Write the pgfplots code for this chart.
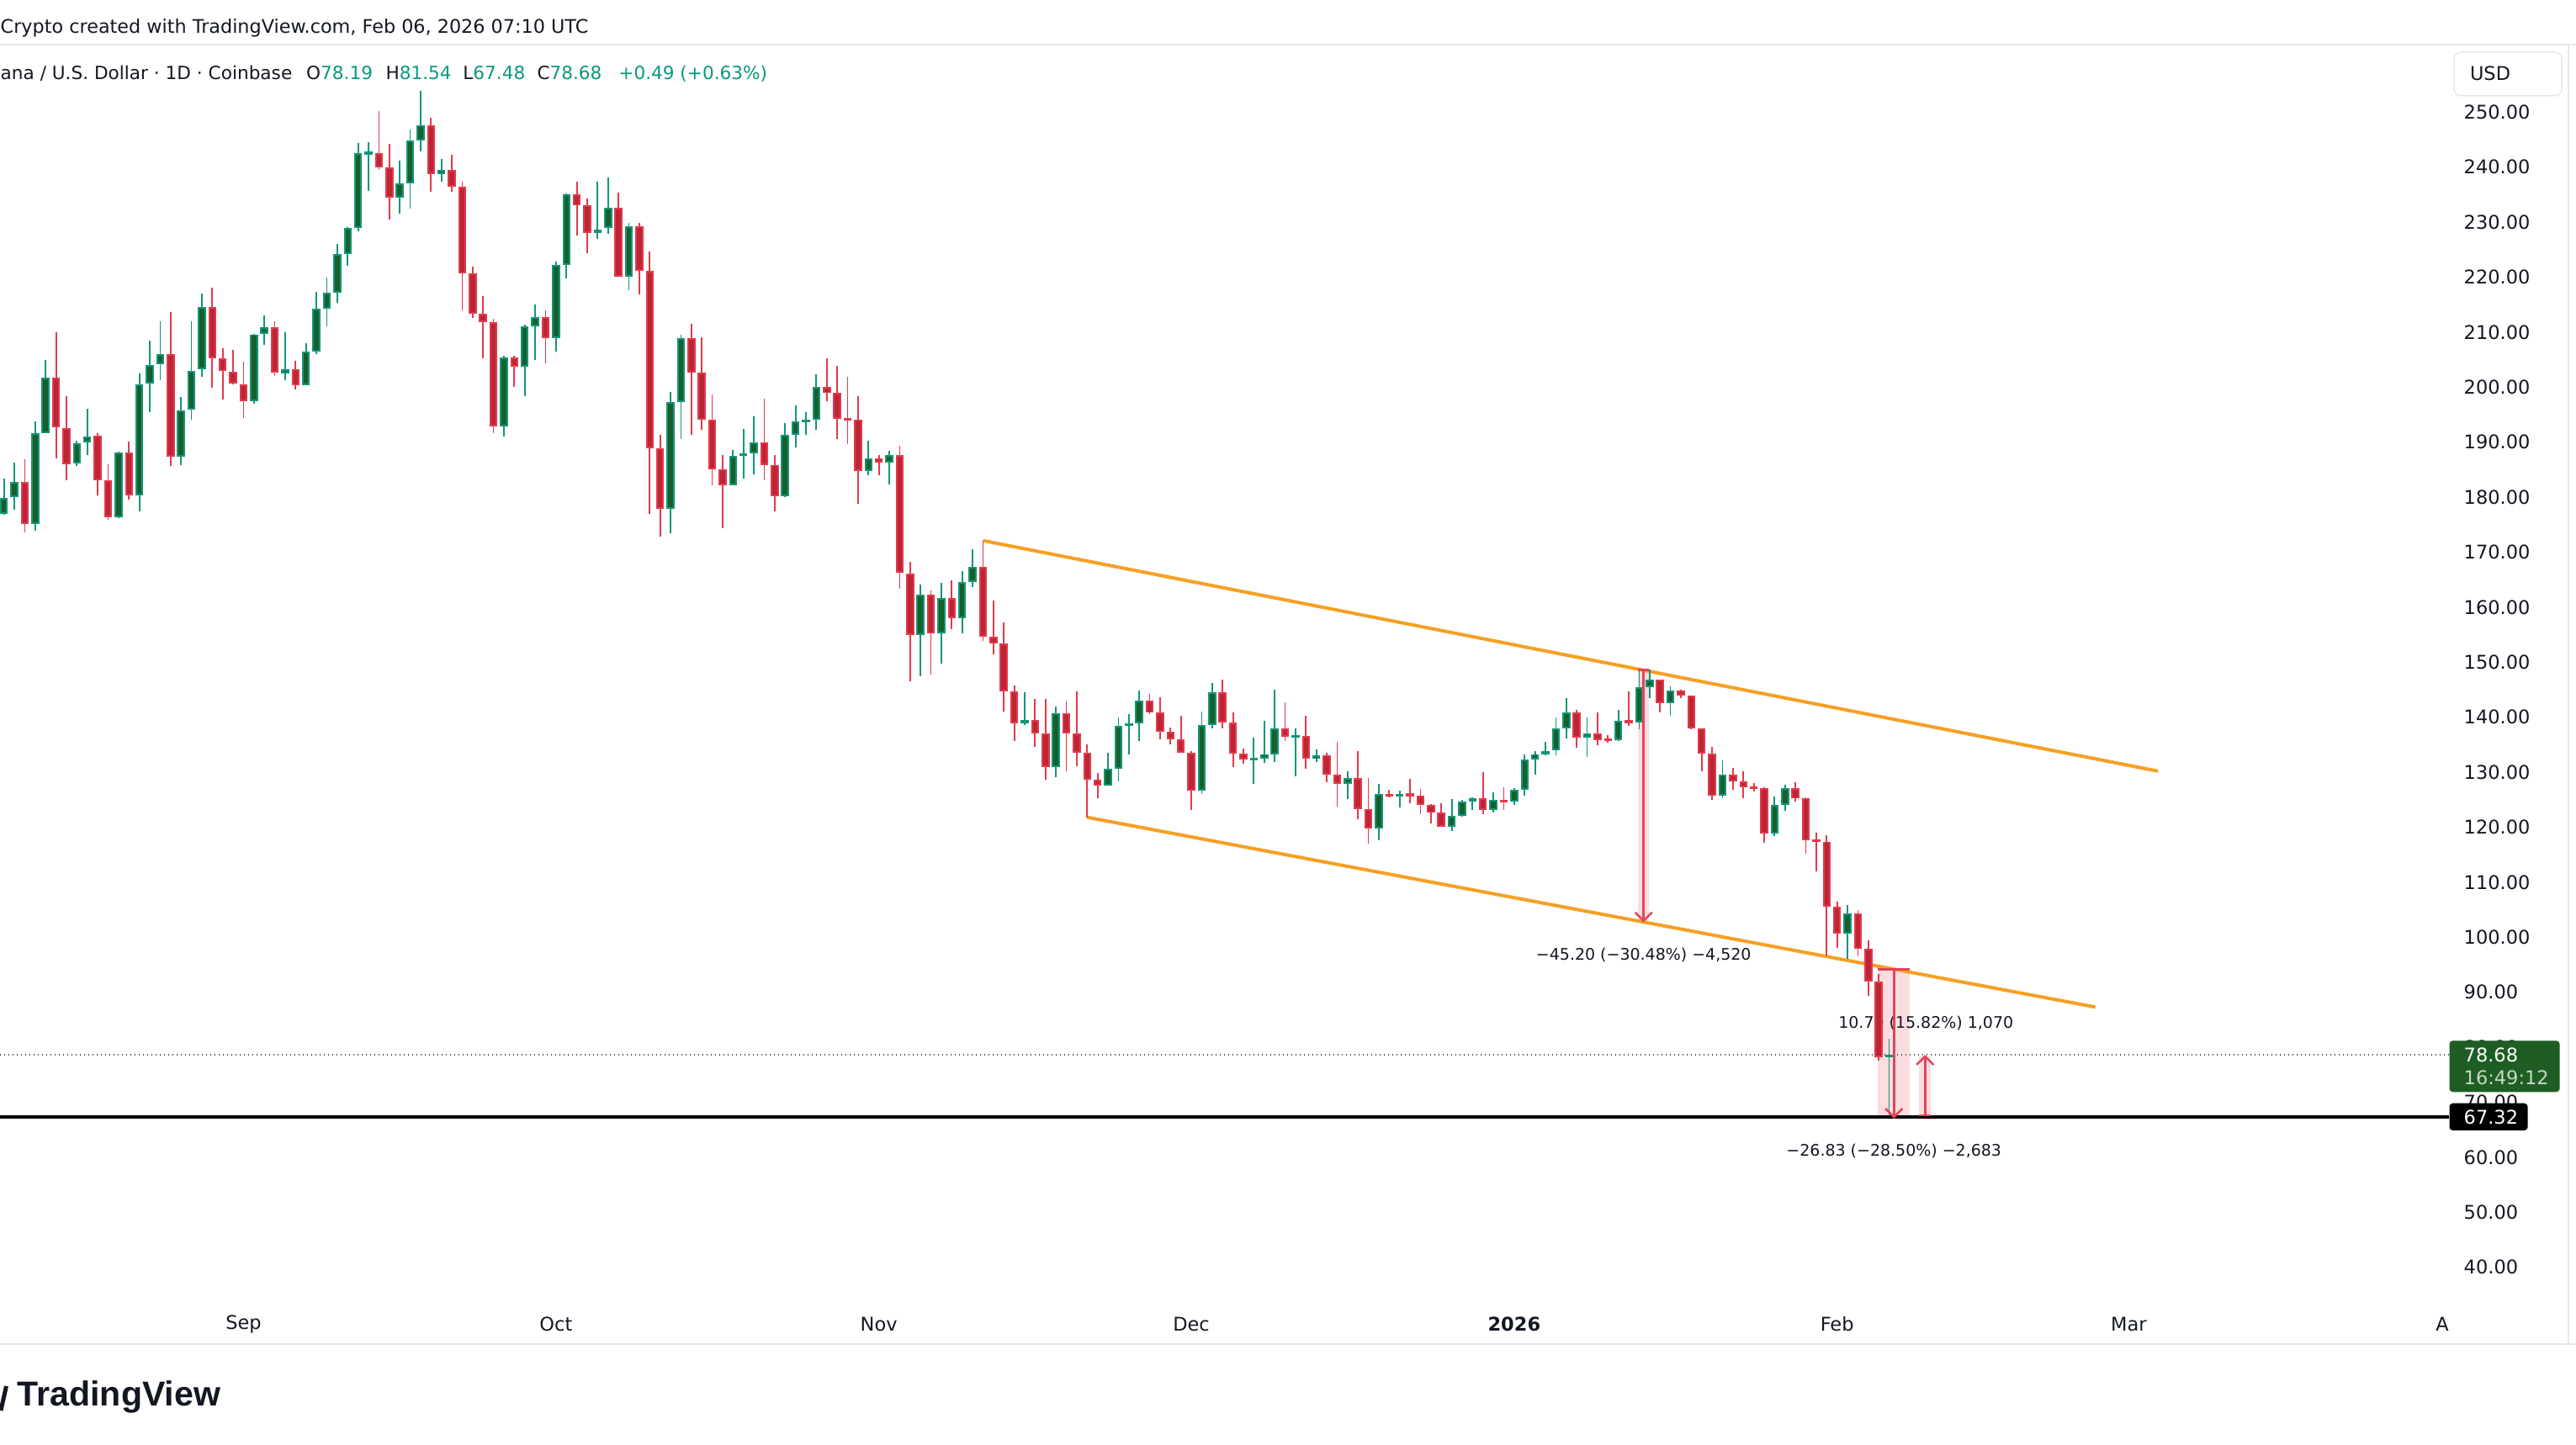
\documentclass[border=0pt]{standalone}
\usepackage{fontspec}
\setmainfont{DejaVu Sans}
\newfontfamily\logofont{Liberation Sans}
\usepackage{pgfplots}
\pgfplotsset{compat=1.18}
\usepackage{pgfplotstable}
\definecolor{upfill}{HTML}{17602B}
\definecolor{upedge}{HTML}{13957A}
\definecolor{dnfill}{HTML}{BD2535}
\definecolor{dnedge}{HTML}{E23A4C}
\definecolor{chan}{HTML}{F5A024}
\definecolor{tvgreen}{HTML}{089981}
\definecolor{tvtext}{HTML}{131722}
\definecolor{pinkbox}{HTML}{FBDDE0}
\definecolor{toolred}{HTML}{E0465A}
\definecolor{boxgreen}{HTML}{1E5E24}
\definecolor{sepgray}{HTML}{E6E8EE}
\definecolor{dotgreen}{HTML}{34523A}
\newcommand\hdrfont{\fontsize{6.35pt}{7pt}\selectfont}
\newcommand\legfont{\fontsize{6.15pt}{7pt}\selectfont}
\newcommand\axfont{\fontsize{6.4pt}{7pt}\selectfont}
\newcommand\toolfont{\fontsize{5.4pt}{6pt}\selectfont}

\pgfplotstableread{
d O H L C
-23 176.9 183.4 176.8 179.9
-22 180.0 186.3 177.7 182.7
-20 175.1 193.8 173.9 191.7
-19 191.7 205.0 191.6 201.7
-16 186.1 190.3 185.6 189.8
-15 189.9 196.1 187.6 191.0
-12 176.4 188.2 176.2 188.1
-10 180.3 202.5 177.4 200.5
-9 200.6 208.5 195.4 204.0
-8 204.2 212.0 201.3 206.0
-6 187.4 198.2 185.8 195.8
-5 195.9 212.0 194.1 203.0
-4 203.2 217.0 201.9 214.6
1 197.5 209.7 197.0 209.6
2 209.7 213.0 207.7 210.9
4 202.5 210.0 201.3 203.3
6 200.4 208.0 200.4 206.4
7 206.5 217.3 206.0 214.2
8 214.2 219.9 211.1 217.2
9 217.2 226.0 215.4 224.2
10 224.2 229.1 222.1 228.9
11 228.9 244.4 228.4 242.5
12 242.5 244.5 235.6 242.6
15 234.5 241.2 231.5 237.1
16 237.1 246.9 232.4 244.9
17 244.9 253.8 242.8 247.6
19 238.8 241.5 237.4 239.5
25 192.8 205.7 191.0 205.4
27 203.7 211.3 198.4 211.1
28 211.1 215.0 204.9 212.8
30 208.9 222.9 206.5 222.2
31 222.2 235.2 219.8 235.0
34 228.0 237.4 226.9 228.6
35 228.9 238.1 227.8 232.6
37 220.1 229.8 217.7 229.2
41 177.9 199.2 173.4 197.3
42 197.3 209.5 190.5 208.9
47 182.2 188.6 182.1 187.5
48 187.5 192.4 183.4 187.9
49 187.9 194.7 184.1 189.9
52 180.2 193.5 180.0 191.4
53 191.4 196.7 189.0 193.7
54 193.7 195.4 191.4 194.1
55 194.1 202.3 192.2 200.1
60 184.8 190.3 184.0 187.1
62 186.3 188.4 182.3 187.6
65 155.0 164.1 147.4 162.3
67 155.2 164.4 149.8 161.7
69 158.0 166.5 155.2 164.5
70 164.5 170.5 163.6 167.3
75 138.9 144.6 138.6 139.5
78 130.9 142.0 129.1 140.7
83 127.6 133.5 127.6 130.6
84 130.6 139.9 128.4 138.4
85 138.4 140.5 133.3 138.9
86 138.9 144.9 135.6 143.0
92 126.6 141.0 126.1 138.6
93 138.6 146.2 137.9 144.6
97 132.3 136.3 127.8 132.4
98 132.4 139.3 131.7 133.3
99 133.3 145.0 131.8 137.9
101 136.4 138.0 129.2 136.6
103 132.4 134.2 131.9 133.1
106 127.9 130.1 125.1 128.9
109 119.7 127.8 117.7 126.1
111 125.6 126.6 123.6 126.0
116 120.1 125.1 119.3 122.1
117 122.1 125.0 121.9 124.7
118 124.7 125.5 123.1 125.2
120 123.2 126.4 122.7 124.9
122 124.6 127.1 124.1 126.8
123 126.8 133.2 125.7 132.3
124 132.3 133.9 129.6 133.3
125 133.3 135.5 133.0 133.9
126 134.0 139.9 133.1 137.9
127 137.9 143.5 136.2 140.9
129 136.3 139.9 132.7 137.1
132 135.8 141.4 135.6 139.4
134 139.0 149.0 137.8 145.4
135 145.4 148.6 143.4 146.8
137 142.5 145.6 140.3 144.8
142 125.7 132.1 125.2 129.5
147 118.8 125.6 118.4 124.1
148 124.1 127.7 123.0 127.1
154 100.7 105.9 96.1 104.3
158 78.19 81.54 67.48 78.68
}\upcandles

\pgfplotstableread{
d O H L C
-21 182.7 186.9 173.6 175.1
-18 201.7 210.0 187.1 192.7
-17 192.6 198.4 183.0 186.0
-14 191.2 191.6 180.3 183.1
-13 183.1 186.0 175.9 176.4
-11 188.1 190.1 179.6 180.3
-7 206.0 213.7 185.6 187.4
-3 214.6 218.1 199.9 205.2
-2 205.2 207.1 197.7 202.9
-1 202.8 206.8 200.5 200.6
0 200.5 204.6 194.4 197.5
3 210.9 212.0 202.1 202.6
5 203.3 204.8 199.6 200.4
13 242.5 250.2 239.5 239.9
14 239.9 244.2 230.4 234.5
18 247.6 248.9 235.5 238.7
20 239.5 242.2 235.5 236.4
21 236.4 237.3 213.9 220.7
22 220.7 221.9 212.6 213.3
23 213.3 216.5 205.2 211.8
24 211.8 212.5 191.7 192.8
26 205.4 205.7 200.1 203.7
29 212.8 214.0 204.4 208.9
32 235.0 237.3 227.6 233.0
33 233.0 234.3 224.3 228.0
36 232.6 235.3 220.0 220.1
38 229.2 229.8 216.9 221.2
39 221.2 224.6 177.0 188.9
40 188.9 191.3 172.9 177.9
43 208.9 211.5 191.4 202.7
44 202.7 209.0 192.3 194.1
45 194.1 198.6 182.2 185.0
46 185.0 187.6 174.4 182.2
50 189.9 197.9 183.1 185.9
51 185.9 187.6 177.4 180.2
56 200.1 205.3 197.4 198.9
57 198.9 203.9 190.5 194.3
58 194.3 201.9 189.7 194.1
59 194.1 198.4 178.8 184.8
61 187.1 187.6 184.0 186.3
63 187.6 189.3 163.4 166.2
64 166.1 168.3 146.6 155.0
66 162.3 163.0 147.8 155.2
68 161.7 164.9 156.0 158.0
71 167.3 172.1 153.9 154.7
72 154.6 161.2 151.4 153.4
73 153.4 157.2 141.0 144.7
74 144.7 145.8 135.7 138.9
76 139.5 143.3 134.6 137.0
77 137.0 143.3 128.7 130.9
79 140.7 142.8 130.1 137.0
80 137.0 144.7 131.1 133.5
81 133.5 135.1 121.8 128.7
82 128.6 129.9 125.2 127.6
87 143.0 144.2 140.6 140.8
88 140.8 143.6 136.0 137.4
89 137.4 138.1 135.0 136.0
90 136.0 140.3 133.5 133.5
91 133.5 133.8 123.2 126.6
94 144.6 146.9 137.9 139.1
95 139.1 140.8 131.0 133.4
96 133.4 134.3 131.5 132.3
100 137.9 142.7 135.6 136.4
102 136.6 140.3 130.6 132.4
104 133.1 133.6 128.2 129.5
105 129.5 135.5 123.7 127.9
107 128.9 133.9 121.5 123.3
108 123.3 128.9 117.0 119.7
110 126.1 126.8 125.4 125.6
112 126.0 128.8 124.4 125.8
113 125.8 127.0 122.3 124.0
114 124.0 124.2 120.7 122.6
115 122.6 124.4 120.0 120.1
119 125.2 130.0 122.3 123.2
121 124.9 127.2 123.2 124.6
128 140.9 141.3 134.4 136.3
130 137.1 140.9 134.9 135.9
131 135.9 136.8 135.3 135.8
133 139.4 144.7 138.4 139.0
136 146.8 146.9 140.9 142.5
138 144.8 145.0 143.5 143.9
139 143.9 144.0 137.8 137.9
140 137.9 137.9 130.2 133.4
141 133.4 134.6 124.9 125.7
143 129.5 130.8 126.8 128.3
144 128.3 130.1 125.2 127.3
145 127.3 128.1 126.5 127.0
146 127.1 127.2 117.1 118.8
149 127.1 128.2 124.7 125.2
150 125.2 125.4 115.2 117.6
151 117.6 119.0 111.9 117.4
152 117.4 118.6 96.7 105.5
153 105.5 106.5 98.1 100.7
155 104.3 105.0 96.6 97.9
156 97.9 99.5 89.3 91.9
157 91.9 93.3 77.5 78.19
}\downcandles

\begin{document}
\begin{tikzpicture}
\path[use as bounding box] (0mm,-17.5mm) rectangle (306.2mm,154.3mm);
\fill[white] (0mm,-17.5mm) rectangle (306.2mm,154.3mm);

\begin{axis}[
  at={(0mm,0mm)}, anchor=south west, scale only axis,
  width=291.1mm, height=149.0mm,
  xmin=-23.38, xmax=211.75, ymin=34.45, ymax=262.28,
  axis x line*=bottom, axis y line*=right,
  axis line style={draw=none},
  xtick style={draw=none}, ytick style={draw=none},
  /pgf/number format/assume math mode=true,
  xtick={0,30,61,91,122,153,181},
  xticklabels={Sep,Oct,Nov,Dec,\textbf{2026},Feb,Mar},
  ytick={40,50,60,70,80,90,100,110,120,130,140,150,160,170,180,190,200,210,220,230,240,250},
  yticklabels={40.00,50.00,60.00,70.00,80.00,90.00,100.00,110.00,120.00,130.00,140.00,150.00,160.00,170.00,180.00,190.00,200.00,210.00,220.00,230.00,240.00,250.00},
  xticklabel style={font=\axfont, text=tvtext, anchor=center, inner sep=0pt, yshift=-3.1mm},
  yticklabel style={font=\axfont, text=tvtext, anchor=west, inner sep=0pt, xshift=1.7mm},
]
% pink measurement bands
\fill[pinkbox] (axis cs:133.9,103.0) rectangle (axis cs:134.95,148.6);
\fill[pinkbox] (axis cs:156.92,67.32) rectangle (axis cs:159.99,94.15);
\fill[pinkbox] (axis cs:160.88,67.64) rectangle (axis cs:162.01,78.34);
% channel lines
\draw[chan, line width=0.4mm] (axis cs:71,172.1) -- (axis cs:183.8,130.2);
\draw[chan, line width=0.4mm] (axis cs:81,121.8) -- (axis cs:177.8,87.3);
% measurement labels
\node[font=\toolfont, text=tvtext, inner sep=0pt] at (axis cs:134.43,96.73) {−45.20 (−30.48\%) −4,520};
\node[font=\toolfont, text=tvtext, inner sep=0pt] at (axis cs:161.53,84.34) {10.70 (15.82\%) 1,070};
\node[font=\toolfont, text=tvtext, inner sep=0pt] at (axis cs:158.46,61.06) {−26.83 (−28.50\%) −2,683};

% down candles
\addplot[draw=none, mark=none, forget plot, error bars/.cd, y dir=both, y explicit, error mark=none,
  error bar style={line width=0.18mm, draw=dnedge}]
  table[x=d, y expr={(\thisrow{H}+\thisrow{L})/2}, y error expr={(\thisrow{H}-\thisrow{L})/2}] {\downcandles};
\addplot[draw=none, mark=none, forget plot, error bars/.cd, y dir=both, y explicit, error mark=none,
  error bar style={line width=0.95mm, draw=dnedge}]
  table[x=d, y expr={(\thisrow{O}+\thisrow{C})/2}, y error expr={max(abs(\thisrow{C}-\thisrow{O})/2,0.25)}] {\downcandles};
\addplot[draw=none, mark=none, forget plot, error bars/.cd, y dir=both, y explicit, error mark=none,
  error bar style={line width=0.55mm, draw=dnfill}]
  table[x=d, y expr={(\thisrow{O}+\thisrow{C})/2}, y error expr={max(abs(\thisrow{C}-\thisrow{O})/2-0.3,0)}] {\downcandles};
% up candles
\addplot[draw=none, mark=none, forget plot, error bars/.cd, y dir=both, y explicit, error mark=none,
  error bar style={line width=0.18mm, draw=upedge}]
  table[x=d, y expr={(\thisrow{H}+\thisrow{L})/2}, y error expr={(\thisrow{H}-\thisrow{L})/2}] {\upcandles};
\addplot[draw=none, mark=none, forget plot, error bars/.cd, y dir=both, y explicit, error mark=none,
  error bar style={line width=0.95mm, draw=upedge}]
  table[x=d, y expr={(\thisrow{O}+\thisrow{C})/2}, y error expr={max(abs(\thisrow{C}-\thisrow{O})/2,0.25)}] {\upcandles};
\addplot[draw=none, mark=none, forget plot, error bars/.cd, y dir=both, y explicit, error mark=none,
  error bar style={line width=0.55mm, draw=upfill}]
  table[x=d, y expr={(\thisrow{O}+\thisrow{C})/2}, y error expr={max(abs(\thisrow{C}-\thisrow{O})/2-0.3,0)}] {\upcandles};

% horizontal lines
\draw[black, line width=0.38mm] (axis cs:-23.38,67.32) -- (axis cs:211.75,67.32);
\draw[dotgreen, line width=0.2mm, dash pattern=on 0.15mm off 0.35mm] (axis cs:-23.38,78.68) -- (axis cs:211.75,78.68);

% measurement tools (red)
\draw[toolred, line width=0.25mm] (axis cs:134.42,148.6) -- (axis cs:134.42,103.0);
\draw[toolred, line width=0.25mm] (axis cs:133.9,148.6) -- (axis cs:134.95,148.6);
\draw[toolred, line width=0.25mm] (axis cs:133.61,104.53) -- (axis cs:134.42,103.0) -- (axis cs:135.23,104.53);
\draw[toolred, line width=0.25mm] (axis cs:158.46,94.15) -- (axis cs:158.46,67.32);
\draw[toolred, line width=0.25mm] (axis cs:156.92,94.15) -- (axis cs:159.99,94.15);
\draw[toolred, line width=0.25mm] (axis cs:157.65,68.85) -- (axis cs:158.46,67.32) -- (axis cs:159.27,68.85);
\draw[toolred, line width=0.25mm] (axis cs:161.45,78.34) -- (axis cs:161.45,67.64);
\draw[toolred, line width=0.25mm] (axis cs:160.88,67.64) -- (axis cs:162.01,67.64);
\draw[toolred, line width=0.25mm] (axis cs:160.64,76.81) -- (axis cs:161.45,78.34) -- (axis cs:162.26,76.81);
\end{axis}

% frame lines
\draw[sepgray, line width=0.2mm] (0mm,149.0mm) -- (306.2mm,149.0mm);
\draw[sepgray, line width=0.2mm] (0mm,-5.5mm) -- (306.2mm,-5.5mm);
\draw[sepgray, line width=0.2mm] (305.3mm,149.0mm) -- (305.3mm,-5.5mm);

% header
\node[anchor=base west, inner sep=0pt, font=\hdrfont, text=tvtext] at (0mm,150.35mm) {Crypto created with TradingView.com, Feb 06, 2026 07:10 UTC};
\node[anchor=base west, inner sep=0pt, font=\legfont, text=tvtext] at (0mm,144.85mm) {ana / U.S. Dollar · 1D · Coinbase};
\node[anchor=base west, inner sep=0pt, font=\legfont, text=tvtext] at (36.35mm,144.85mm) {O\textcolor{tvgreen}{78.19}};
\node[anchor=base west, inner sep=0pt, font=\legfont, text=tvtext] at (45.79mm,144.85mm) {H\textcolor{tvgreen}{81.54}};
\node[anchor=base west, inner sep=0pt, font=\legfont, text=tvtext] at (54.97mm,144.85mm) {L\textcolor{tvgreen}{67.48}};
\node[anchor=base west, inner sep=0pt, font=\legfont, text=tvtext] at (63.78mm,144.85mm) {C\textcolor{tvgreen}{78.68}};
\node[anchor=base west, inner sep=0pt, font=\legfont, text=tvgreen] at (73.47mm,144.85mm) {+0.49 (+0.63\%)};

% USD button
\draw[sepgray, line width=0.15mm, rounded corners=0.8mm] (291.7mm,148.1mm) rectangle (304.5mm,142.9mm);
\node[font=\axfont, text=tvtext, inner sep=0pt] at (296.0mm,145.6mm) {USD};

% last price boxes
\fill[boxgreen, rounded corners=0.4mm] (291.15mm,30.57mm) rectangle (304.26mm,24.47mm);
\node[anchor=west, font=\axfont, text=white, inner sep=0pt] at (292.8mm,28.9mm) {78.68};
\node[anchor=west, font=\axfont, text=white!75!boxgreen, inner sep=0pt] at (292.8mm,26.13mm) {16:49:12};
\fill[black, rounded corners=0.4mm] (291.15mm,23.13mm) rectangle (300.46mm,19.9mm);
\node[anchor=west, font=\axfont, text=white, inner sep=0pt] at (292.8mm,21.5mm) {67.32};

% cut off April label
\node[font=\axfont, text=tvtext, inner sep=0pt] at (290.3mm,-3.1mm) {A};

% logo
\draw[tvtext, line width=0.5mm] (0.1mm,-13.4mm) -- (0.75mm,-10.5mm);
\node[anchor=base west, inner sep=0pt, text=tvtext, font=\logofont\bfseries\fontsize{11.7pt}{12pt}\selectfont] at (2.0mm,-12.9mm) {TradingView};
\end{tikzpicture}
\end{document}
